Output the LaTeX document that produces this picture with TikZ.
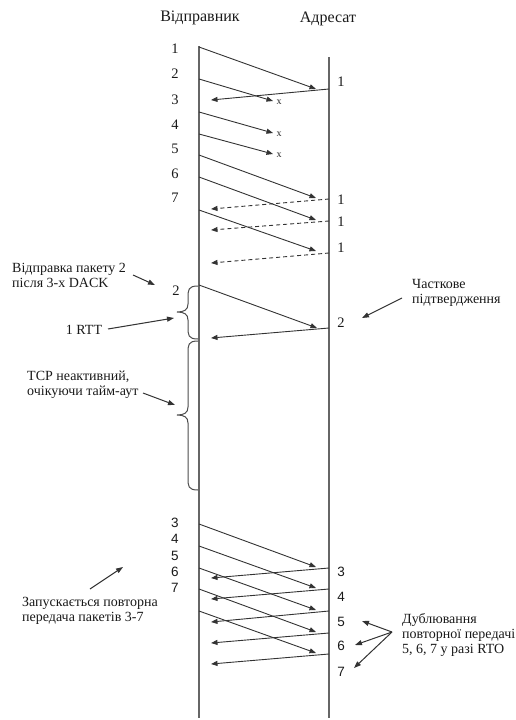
\documentclass[tikz,border=0pt]{standalone}
\usepackage{fontspec}
\setmainfont{Liberation Serif}
\newfontfamily\numsans{Liberation Sans}
\usetikzlibrary{arrows.meta}
\begin{document}
\begin{tikzpicture}[x=1pt,y=-1pt,
  lifeline/.style={draw=black!60,line width=1.3pt},
  msg/.style={draw=black!80,line width=0.9pt,-{Triangle[length=6.5pt,width=5pt]}},
  ackd/.style={msg,dash pattern=on 4pt off 3pt},
  pointer/.style={draw=black!80,line width=1pt,-{Triangle[length=7pt,width=5pt]}},
  brc/.style={draw=black!70,line width=1pt},
  title/.style={font=\fontsize{16}{18}\selectfont,text=black!90,inner sep=0pt},
  note/.style={font=\fontsize{14}{15}\selectfont,text=black!90,inner sep=0pt,align=left,anchor=west},
  num/.style={font=\fontsize{14.5}{16}\selectfont,text=black!90,inner sep=0pt},
  snum/.style={font=\numsans\fontsize{13.5}{16}\selectfont,text=black!90,inner sep=0pt},
  lost/.style={font=\fontsize{10}{11}\selectfont,text=black!85,inner sep=0pt}
]
\useasboundingbox (0,0) rectangle (516,720);

% titles
\node[title] (snd) at (200,18) {Відправник};
\node[title] (rcv) at (328,19) {Адресат};

% lifelines
\coordinate (st) at (199,46);
\coordinate (sb) at (199,718);
\coordinate (rt) at (329,57);
\coordinate (rb) at (329,718);
\draw[lifeline] (st) -- (sb);
\draw[lifeline] (rt) -- (rb);

% first window: packets 1..7
\foreach \n/\sy/\ex/\ey in {1/47/316/89, 2/79/273/101, 3/112/273/133, 4/134/273/154, 5/155/316/198, 6/177/316/220, 7/210/316/251}{
  \coordinate (ps\n) at (199,\sy);
  \coordinate (pe\n) at (\ex,\ey);
  \draw[msg] (ps\n) -- (pe\n);
}
\foreach \n/\y in {1/49, 2/74, 3/100, 4/125, 5/149, 6/174, 7/198}{
  \node[num] (ln\n) at (175,\y) {\n};
}
% lost markers
\node[lost] (x2) at (279,102) {x};
\node[lost] (x3) at (279,134) {x};
\node[lost] (x4) at (279,155) {x};

% acks of first window
\coordinate (as1) at (329,89);
\coordinate (ae1) at (211,100);
\draw[msg] (as1) -- (ae1);
\foreach \n/\sy/\ey in {2/199/209, 3/221/230, 4/253/263}{
  \coordinate (as\n) at (329,\sy);
  \coordinate (ae\n) at (211,\ey);
  \draw[ackd] (as\n) -- (ae\n);
}
\node[num] (ra1) at (341,82) {1};
\node[num] (ra2) at (341,200) {1};
\node[num] (ra3) at (341,222) {1};
\node[num] (ra4) at (341,248) {1};

% retransmission of packet 2
\coordinate (rs2) at (199,285);
\coordinate (re2) at (317,328);
\draw[msg] (rs2) -- (re2);
\coordinate (ras2) at (329,328);
\coordinate (rae2) at (211,338);
\draw[msg] (ras2) -- (rae2);
\node[num] (l2b) at (176,291) {2};
\node[num] (r2b) at (341,323) {2};

% braces
\draw[brc] (198,286) .. controls (188,286) and (188,290) .. (188,298) -- (188,304)
  .. controls (188,310) and (184,312) .. (177,312)
  .. controls (184,312) and (188,314) .. (188,320) -- (188,327)
  .. controls (188,335) and (188,339) .. (198,339);
\draw[brc] (198,341) .. controls (188,341) and (188,345) .. (188,353) -- (188,407)
  .. controls (188,413) and (184,415) .. (177,415)
  .. controls (184,415) and (188,417) .. (188,423) -- (188,478)
  .. controls (188,486) and (188,490) .. (198,490);

% annotations left
\node[note] (n1) at (12,275) {Відправка пакету 2\\після 3-х DACK};
\coordinate (n1a) at (133,275);
\coordinate (n1b) at (155,285);
\draw[pointer] (n1a) -- (n1b);

\node[note,anchor=center] (n2) at (84,330) {1 RTT};
\coordinate (n2a) at (108,329);
\coordinate (n2b) at (174,318);
\draw[pointer] (n2a) -- (n2b);

\node[note] (n3) at (27,385) {TCP неактивний,\\очікуючи тайм-аут};
\coordinate (n3a) at (143,393);
\coordinate (n3b) at (175,405);
\draw[pointer] (n3a) -- (n3b);

\node[note] (n4) at (412,293) {Часткове\\підтвердження};
\coordinate (n4a) at (402,298);
\coordinate (n4b) at (362,318);
\draw[pointer] (n4a) -- (n4b);

% second window: packets 3..7
\foreach \n/\sy/\ey in {3/524/567, 4/546/588, 5/568/610, 6/589/632, 7/611/653}{
  \coordinate (qs\n) at (199,\sy);
  \coordinate (qe\n) at (316,\ey);
  \draw[msg] (qs\n) -- (qe\n);
}
\foreach \n/\sy/\ey in {3/568/578, 4/589/599, 5/611/622, 6/633/643, 7/654/664}{
  \coordinate (bs\n) at (329,\sy);
  \coordinate (be\n) at (211,\ey);
  \draw[msg] (bs\n) -- (be\n);
}
\foreach \n/\y in {3/523, 4/539, 5/556, 6/572, 7/588}{
  \node[snum] (lq\n) at (175,\y) {\n};
}
\foreach \n/\y in {3/572, 4/597, 5/622, 6/646, 7/672}{
  \node[snum] (rq\n) at (341,\y) {\n};
}

\node[note] (n5) at (22,611) {Запускається повторна\\передача пакетів 3-7};
\coordinate (n5a) at (90,589);
\coordinate (n5b) at (123,567);
\draw[pointer] (n5a) -- (n5b);

\node[note] (n6) at (402,635) {Дублювання\\повторної передачі\\5, 6, 7 у разі RTO};
\coordinate (n6o) at (392,632);
\coordinate (n6a) at (362,621);
\coordinate (n6b) at (355,645);
\coordinate (n6c) at (354,668);
\draw[pointer] (n6o) -- (n6a);
\draw[pointer] (n6o) -- (n6b);
\draw[pointer] (n6o) -- (n6c);
\end{tikzpicture}
\end{document}
